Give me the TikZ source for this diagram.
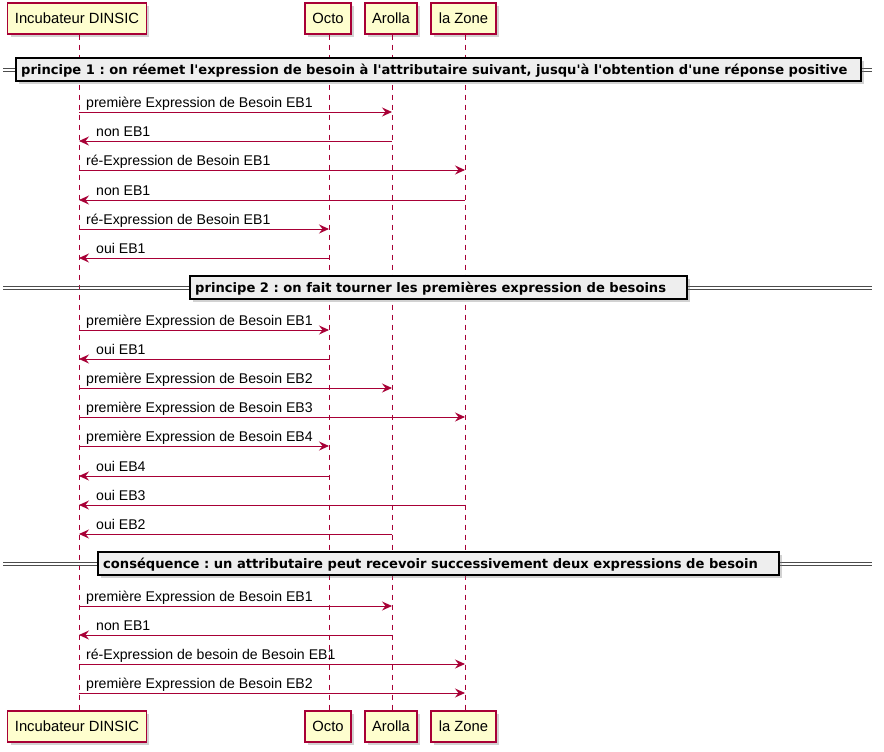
\documentclass[tikz,border=0pt]{standalone}
\usepackage{fontspec}
\setmainfont{Liberation Sans}
\newfontfamily\sepfont{DejaVu Sans}
\usetikzlibrary{arrows.meta,shadows}
\definecolor{plred}{HTML}{A80036}
\definecolor{plfill}{HTML}{FEFECE}
\definecolor{sepfill}{HTML}{EEEEEE}
\frenchspacing
\tikzset{
  part/.style={draw=plred,line width=1.2pt,fill=plfill,minimum height=31pt,inner xsep=7pt,
    font=\fontsize{14.8pt}{17pt}\selectfont,text=black,
    drop shadow={shadow xshift=3pt,shadow yshift=-3pt,opacity=0.35}},
  life/.style={draw=plred,line width=0.8pt,dash pattern=on 5pt off 5pt},
  msg/.style={draw=plred,line width=0.9pt,-{Stealth[length=10pt,width=9pt,inset=3.5pt]}},
  lbl/.style={anchor=base west,inner sep=0pt,font=\fontsize{14.1pt}{16pt}\selectfont},
  sepbox/.style={draw=black,line width=1.6pt,fill=sepfill,minimum height=23pt,inner xsep=0pt,
    anchor=west,align=left,
    drop shadow={shadow xshift=3pt,shadow yshift=-3pt,opacity=0.35}},
  septext/.style={anchor=base west,inner sep=0pt,font=\sepfont\bfseries\fontsize{13.1pt}{15pt}\selectfont},
  sepline/.style={draw=black!70,line width=0.9pt}
}
\newcommand{\ap}{\char"0027\relax}
\newcommand{\rmsg}[4]{\draw[msg] (#1 |- 0,#3) -- (#2 |- 0,#3);
  \node[lbl] at (86,#3-5) {#4};}
\newcommand{\lmsg}[4]{\draw[msg] (#1 |- 0,#3) -- (#2 |- 0,#3);
  \node[lbl] at (96,#3-5) {#4};}
\newcommand{\sepr}[5]{%
  \draw[sepline] (3,#2-1.5) -- (872,#2-1.5);
  \draw[sepline] (3,#2+1.5) -- (872,#2+1.5);
  \node[sepbox,minimum width=#4pt] (#1) at (#3,#2) {};
  \node[septext] (#1t) at (#3+6,#2+4.7) {#5};}
\begin{document}
\begin{tikzpicture}[x=1pt,y=-1pt]
\useasboundingbox (0,0) rectangle (884,752);
\fill[white] (0,0) rectangle (884,752);
% lifeline x positions
\coordinate (L1) at (79,0);
\coordinate (L2) at (329,0);
\coordinate (L3) at (392,0);
\coordinate (L4) at (465,0);
% participants
\node[part,minimum width=138pt] (t1) at (77,18.5) {Incubateur DINSIC};
\node[part,minimum width=46pt] (t2) at (328,18.5) {Octo};
\node[part,minimum width=50pt] (t3) at (391,18.5) {Arolla};
\node[part,minimum width=65pt] (t4) at (463.5,18.5) {la Zone};
\node[part,minimum width=138pt] (b1) at (77,726.5) {Incubateur DINSIC};
\node[part,minimum width=46pt] (b2) at (328,726.5) {Octo};
\node[part,minimum width=50pt] (b3) at (391,726.5) {Arolla};
\node[part,minimum width=65pt] (b4) at (463.5,726.5) {la Zone};
% lifelines
\draw[life] (L1 |- t1.south) -- (L1 |- b1.north);
\draw[life] (L2 |- t2.south) -- (L2 |- b2.north);
\draw[life] (L3 |- t3.south) -- (L3 |- b3.north);
\draw[life] (L4 |- t4.south) -- (L4 |- b4.north);
% separator 1
\sepr{s1}{69.5}{15}{845}{principe 1 : on réemet l\ap expression de besoin à l\ap attributaire suivant, jusqu\ap à l\ap obtention d\ap une réponse positive}
\rmsg{L1}{L3}{112}{première Expression de Besoin EB1}
\lmsg{L3}{L1}{141}{non EB1}
\rmsg{L1}{L4}{170}{ré-Expression de Besoin EB1}
\lmsg{L4}{L1}{200}{non EB1}
\rmsg{L1}{L2}{229}{ré-Expression de Besoin EB1}
\lmsg{L2}{L1}{258}{oui EB1}
% separator 2
\sepr{s2}{287.5}{189}{497}{principe 2 : on fait tourner les premières expression de besoins}
\rmsg{L1}{L2}{330}{première Expression de Besoin EB1}
\lmsg{L2}{L1}{359}{oui EB1}
\rmsg{L1}{L3}{388}{première Expression de Besoin EB2}
\rmsg{L1}{L4}{417}{première Expression de Besoin EB3}
\rmsg{L1}{L2}{446}{première Expression de Besoin EB4}
\lmsg{L2}{L1}{476}{oui EB4}
\lmsg{L4}{L1}{505}{oui EB3}
\lmsg{L3}{L1}{534}{oui EB2}
% separator 3
\sepr{s3}{563.5}{97}{681}{conséquence : un attributaire peut recevoir successivement deux expressions de besoin}
\rmsg{L1}{L3}{606}{première Expression de Besoin EB1}
\lmsg{L3}{L1}{635}{non EB1}
\rmsg{L1}{L4}{664}{ré-Expression de besoin de Besoin EB1}
\rmsg{L1}{L4}{693}{première Expression de Besoin EB2}
\end{tikzpicture}
\end{document}
